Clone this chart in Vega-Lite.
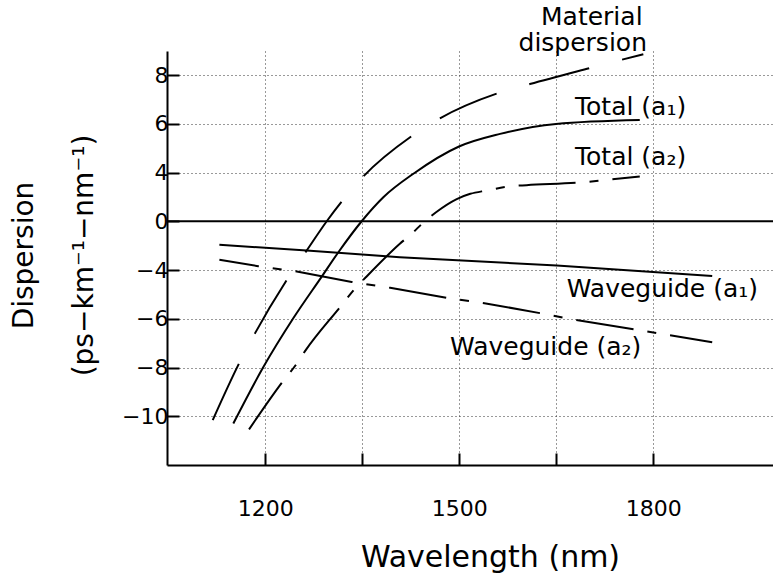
{
  "$schema": "https://vega.github.io/schema/vega-lite/v6.json",
  "width": 606,
  "height": 414,
  "autosize": {"type": "none"},
  "padding": {"left": 167, "top": 51, "right": 0, "bottom": 117},
  "background": "white",
  "config": {"view": {"stroke": null}, "font": "DejaVu Sans"},
  "datasets": {
    "curves": [
      {"series": "Material dispersion", "wavelength": 1118.7, "dispersion": -10.16},
      {"series": "Material dispersion", "wavelength": 1159.3, "dispersion": -7.84},
      {"series": "Material dispersion", "wavelength": 1184, "dispersion": -6.6},
      {"series": "Material dispersion", "wavelength": 1233, "dispersion": -4.42},
      {"series": "Material dispersion", "wavelength": 1264, "dispersion": -2.4},
      {"series": "Material dispersion", "wavelength": 1295, "dispersion": 0},
      {"series": "Material dispersion", "wavelength": 1318, "dispersion": 1.6},
      {"series": "Material dispersion", "wavelength": 1351.5, "dispersion": 3.67},
      {"series": "Material dispersion", "wavelength": 1426, "dispersion": 5.49},
      {"series": "Material dispersion", "wavelength": 1470, "dispersion": 6.23},
      {"series": "Material dispersion", "wavelength": 1558, "dispersion": 7.25},
      {"series": "Material dispersion", "wavelength": 1609, "dispersion": 7.64},
      {"series": "Material dispersion", "wavelength": 1702, "dispersion": 8.3},
      {"series": "Material dispersion", "wavelength": 1784.5, "dispersion": 8.87},
      {"series": "Total (a1)", "wavelength": 1150.5, "dispersion": -10.3},
      {"series": "Total (a1)", "wavelength": 1197, "dispersion": -7.98},
      {"series": "Total (a1)", "wavelength": 1243, "dispersion": -5.99},
      {"series": "Total (a1)", "wavelength": 1287, "dispersion": -4.28},
      {"series": "Total (a1)", "wavelength": 1313, "dispersion": -2.54},
      {"series": "Total (a1)", "wavelength": 1349, "dispersion": 0},
      {"series": "Total (a1)", "wavelength": 1382.5, "dispersion": 1.97},
      {"series": "Total (a1)", "wavelength": 1429, "dispersion": 3.9},
      {"series": "Total (a1)", "wavelength": 1499.5, "dispersion": 5.07},
      {"series": "Total (a1)", "wavelength": 1563, "dispersion": 5.59},
      {"series": "Total (a1)", "wavelength": 1649.5, "dispersion": 6.0},
      {"series": "Total (a1)", "wavelength": 1779, "dispersion": 6.16},
      {"series": "Total (a2)", "wavelength": 1174.8, "dispersion": -10.54},
      {"series": "Total (a2)", "wavelength": 1225.4, "dispersion": -8.63},
      {"series": "Total (a2)", "wavelength": 1248.6, "dispersion": -7.84},
      {"series": "Total (a2)", "wavelength": 1261.4, "dispersion": -7.33},
      {"series": "Total (a2)", "wavelength": 1316, "dispersion": -5.51},
      {"series": "Total (a2)", "wavelength": 1338.7, "dispersion": -4.76},
      {"series": "Total (a2)", "wavelength": 1355, "dispersion": -4.31},
      {"series": "Total (a2)", "wavelength": 1408, "dispersion": -1.85},
      {"series": "Total (a2)", "wavelength": 1426, "dispersion": -1.03},
      {"series": "Total (a2)", "wavelength": 1445, "dispersion": -0.08},
      {"series": "Total (a2)", "wavelength": 1464, "dispersion": 0.74},
      {"series": "Total (a2)", "wavelength": 1496, "dispersion": 1.82},
      {"series": "Total (a2)", "wavelength": 1517, "dispersion": 2.25},
      {"series": "Total (a2)", "wavelength": 1542, "dispersion": 2.52},
      {"series": "Total (a2)", "wavelength": 1581, "dispersion": 2.88},
      {"series": "Total (a2)", "wavelength": 1604, "dispersion": 2.96},
      {"series": "Total (a2)", "wavelength": 1691.7, "dispersion": 3.2},
      {"series": "Total (a2)", "wavelength": 1728, "dispersion": 3.4},
      {"series": "Total (a2)", "wavelength": 1779, "dispersion": 3.67},
      {"series": "Waveguide (a1)", "wavelength": 1129, "dispersion": -1.93},
      {"series": "Waveguide (a1)", "wavelength": 1264, "dispersion": -2.4},
      {"series": "Waveguide (a1)", "wavelength": 1408, "dispersion": -2.95},
      {"series": "Waveguide (a1)", "wavelength": 1650.6, "dispersion": -3.63},
      {"series": "Waveguide (a1)", "wavelength": 1891, "dispersion": -4.25},
      {"series": "Waveguide (a2)", "wavelength": 1129, "dispersion": -3.16},
      {"series": "Waveguide (a2)", "wavelength": 1189, "dispersion": -3.69},
      {"series": "Waveguide (a2)", "wavelength": 1246, "dispersion": -4.05},
      {"series": "Waveguide (a2)", "wavelength": 1333.6, "dispersion": -4.49},
      {"series": "Waveguide (a2)", "wavelength": 1393, "dispersion": -4.73},
      {"series": "Waveguide (a2)", "wavelength": 1480.5, "dispersion": -5.14},
      {"series": "Waveguide (a2)", "wavelength": 1541, "dispersion": -5.37},
      {"series": "Waveguide (a2)", "wavelength": 1627, "dispersion": -5.78},
      {"series": "Waveguide (a2)", "wavelength": 1663, "dispersion": -5.97},
      {"series": "Waveguide (a2)", "wavelength": 1891, "dispersion": -6.96}
    ],
    "labels": [
      {"text": "Material", "wavelength": 1626.3, "dispersion": 10.06},
      {"text": "dispersion", "wavelength": 1591.5, "dispersion": 9.0},
      {"text": "Total (a₁)", "wavelength": 1678.9, "dispersion": 6.38},
      {"text": "Total (a₂)", "wavelength": 1678.9, "dispersion": 4.29},
      {"text": "Waveguide (a₁)", "wavelength": 1666, "dispersion": -5.12},
      {"text": "Waveguide (a₂)", "wavelength": 1485.6, "dispersion": -7.5}
    ]
  },
  "encoding": {
    "x": {
      "field": "wavelength",
      "type": "quantitative",
      "scale": {"domain": [1048, 1985], "nice": false, "zero": false},
      "axis": {
        "values": [1200, 1350, 1500, 1650, 1800],
        "format": "d",
        "labelExpr": "datum.value % 300 == 0 ? datum.label : ''",
        "title": "Wavelength (nm)",
        "grid": true,
        "gridDash": [1, 3],
        "gridColor": "#333333",
        "gridWidth": 1,
        "tickSize": -12,
        "tickColor": "black",
        "tickWidth": 2,
        "domainColor": "black",
        "domainWidth": 2,
        "labelFont": "DejaVu Sans",
        "labelFontSize": 22,
        "labelColor": "black",
        "labelBaseline": "alphabetic",
        "labelPadding": 62,
        "titleFont": "DejaVu Sans",
        "titleFontSize": 30,
        "titleFontWeight": "normal",
        "titleColor": "black",
        "titleX": 323,
        "titleY": 101,
        "titleBaseline": "alphabetic",
        "titleAlign": "center"
      }
    },
    "y": {
      "field": "dispersion",
      "type": "quantitative",
      "scale": {"domain": [-12, -4, 4, 9], "range": [414, 219, 121.5, 0], "nice": false, "zero": false},
      "axis": {
        "values": [8, 6, 4, 0, -4, -6, -8, -10],
        "title": ["Dispersion", "(ps−km⁻¹−nm⁻¹)"],
        "grid": true,
        "gridDash": [1, 3],
        "gridColor": "#333333",
        "gridWidth": 1,
        "tickSize": -12,
        "tickColor": "black",
        "tickWidth": 2,
        "domainColor": "black",
        "domainWidth": 2,
        "labelFont": "DejaVu Sans",
        "labelFontSize": 22,
        "labelColor": "black",
        "labelPadding": 11,
        "titleFont": "DejaVu Sans",
        "titleFontSize": 28,
        "titleFontWeight": "normal",
        "titleColor": "black",
        "titleAngle": 270,
        "titleX": -135,
        "titleY": 204,
        "titleBaseline": "alphabetic",
        "titleAlign": "center",
        "titleLineHeight": 60
      }
    }
  },
  "layer": [
    {
      "data": {"name": "curves"},
      "transform": [{"filter": "datum.series == 'Material dispersion'"}],
      "mark": {"type": "line", "color": "black", "strokeWidth": 2, "interpolate": "monotone", "strokeDash": [62, 34], "clip": false}
    },
    {
      "data": {"name": "curves"},
      "transform": [{"filter": "datum.series == 'Total (a1)'"}],
      "mark": {"type": "line", "color": "black", "strokeWidth": 2, "interpolate": "monotone", "clip": false}
    },
    {
      "data": {"name": "curves"},
      "transform": [{"filter": "datum.series == 'Total (a2)'"}],
      "mark": {"type": "line", "color": "black", "strokeWidth": 2, "interpolate": "monotone", "strokeDash": [57, 14, 9, 14], "clip": false}
    },
    {
      "data": {"name": "curves"},
      "transform": [{"filter": "datum.series == 'Waveguide (a1)'"}],
      "mark": {"type": "line", "color": "black", "strokeWidth": 2, "clip": false}
    },
    {
      "data": {"name": "curves"},
      "transform": [{"filter": "datum.series == 'Waveguide (a2)'"}],
      "mark": {"type": "line", "color": "black", "strokeWidth": 2, "strokeDash": [58, 14, 9, 14], "strokeDashOffset": 18, "clip": false}
    },
    {
      "data": {"values": [{"dispersion": 0}]},
      "mark": {"type": "rule", "color": "black", "strokeWidth": 2},
      "encoding": {"x": null}
    },
    {
      "data": {"name": "labels"},
      "mark": {"type": "text", "font": "DejaVu Sans", "fontSize": 25, "align": "left", "baseline": "alphabetic", "color": "black", "clip": false},
      "encoding": {
        "text": {"field": "text", "type": "nominal"}
      }
    }
  ]
}
